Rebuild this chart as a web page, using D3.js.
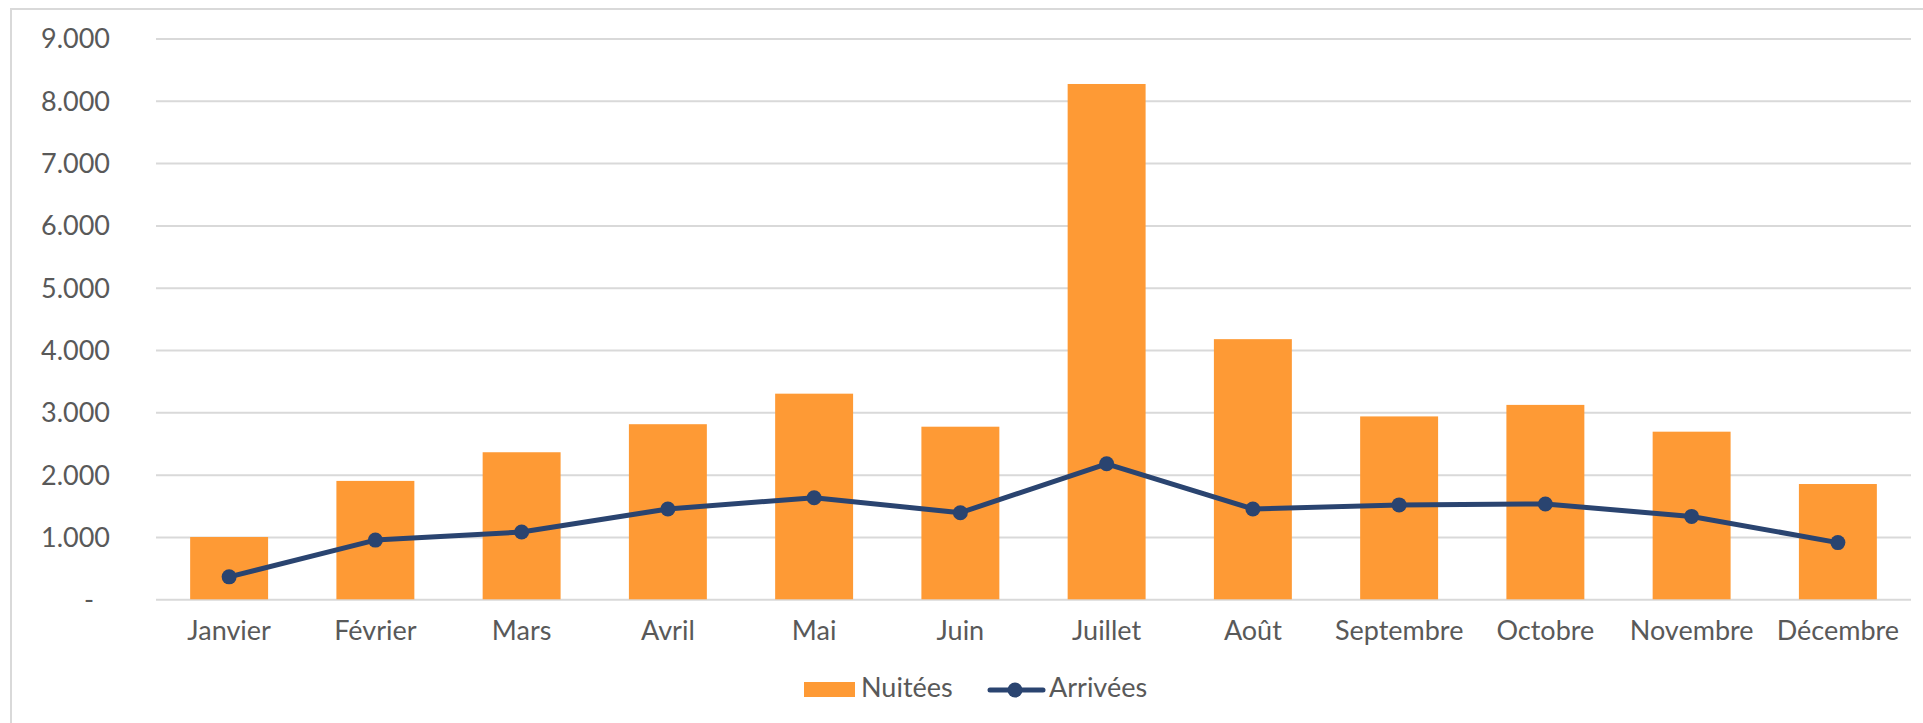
<!DOCTYPE html>
<html>
<head>
<meta charset="utf-8">
<script src="https://cdn.jsdelivr.net/npm/d3@7"></script>
<style>
    body { margin: 0; background: #fff; }
    svg { font-family: Lato, "Noto Sans", sans-serif; }
</style>
</head>
<body>
<svg width="1923" height="723"></svg>
<script>
let months = ["Janvier", "Février", "Mars", "Avril", "Mai", "Juin", "Juillet", "Août", "Septembre", "Octobre", "Novembre", "Décembre"];
let nuitees = [1000, 1900, 2360, 2810, 3300, 2770, 8270, 4175, 2935, 3120, 2690, 1850];
let arrivees = [360, 950, 1080, 1450, 1630, 1390, 2175, 1450, 1515, 1530, 1330, 910];
let yTicks = [0, 1000, 2000, 3000, 4000, 5000, 6000, 7000, 8000, 9000];

var svg = d3.select("svg");

// outer frame of the chart area
svg.append("rect")
    .attr("x", 11).attr("y", 9)
    .attr("width", 1950).attr("height", 750)
    .attr("fill", "none")
    .attr("stroke", "#d9d9d9")
    .attr("stroke-width", 2);

var plotLeft = 156, plotRight = 1911, plotTop = 38.5, plotBottom = 599.3;

var x = d3.scaleBand().domain(months).range([plotLeft, plotRight])
    .paddingInner(0.467).paddingOuter(0.2335);
var y = d3.scaleLinear().domain([0, 9000]).range([plotBottom, plotTop]);

var fmt = function (d) {
    return d === 0 ? "-" : d3.format(",")(d).replace(/,/g, ".");
};

// gridlines + y labels
var yAxis = svg.append("g")
    .attr("transform", "translate(" + plotLeft + ",0)")
    .call(d3.axisLeft(y).tickValues(yTicks).tickFormat(fmt)
        .tickSize(-(plotRight - plotLeft)).tickPadding(46))
    .attr("font-family", null);
yAxis.select(".domain").remove();
yAxis.selectAll("line").attr("stroke", "#d9d9d9").attr("stroke-width", 2);
yAxis.selectAll("text")
    .attr("fill", "#595959")
    .attr("font-size", "27px")
    .attr("dy", "0.35em")
    .attr("dx", function (d) { return d === 0 ? -16 : 0; });

// bars
svg.selectAll(".bar")
    .data(nuitees)
    .enter().append("rect")
    .attr("class", "bar")
    .attr("x", function (d, i) { return x(months[i]); })
    .attr("y", function (d) { return y(d); })
    .attr("width", x.bandwidth())
    .attr("height", function (d) { return y(0) - y(d); })
    .attr("fill", "#fe9a35");

// x labels
var xAxis = svg.append("g")
    .attr("transform", "translate(0," + plotBottom + ")")
    .call(d3.axisBottom(x).tickSize(0).tickPadding(22))
    .attr("font-family", null);
xAxis.select(".domain").remove();
xAxis.selectAll("text")
    .attr("fill", "#595959")
    .attr("font-size", "27px");

// line
var cx = function (i) { return x(months[i]) + x.bandwidth() / 2; };
var line = d3.line()
    .x(function (d, i) { return cx(i); })
    .y(function (d) { return y(d); });

svg.append("path")
    .datum(arrivees)
    .attr("d", line)
    .attr("fill", "none")
    .attr("stroke", "#2a4470")
    .attr("stroke-width", 5)
    .attr("stroke-linejoin", "round");

svg.selectAll(".pt")
    .data(arrivees)
    .enter().append("circle")
    .attr("class", "pt")
    .attr("cx", function (d, i) { return cx(i); })
    .attr("cy", function (d) { return y(d); })
    .attr("r", 7.5)
    .attr("fill", "#2a4470");

// legend
var lg = svg.append("g");
lg.append("rect")
    .attr("x", 804).attr("y", 682)
    .attr("width", 51).attr("height", 15)
    .attr("fill", "#fe9a35");
lg.append("text")
    .attr("x", 861).attr("y", 697)
    .attr("fill", "#595959").attr("font-size", "27px")
    .text("Nuitées");
lg.append("line")
    .attr("x1", 990).attr("x2", 1043)
    .attr("y1", 690).attr("y2", 690)
    .attr("stroke", "#2a4470").attr("stroke-width", 5)
    .attr("stroke-linecap", "round");
lg.append("circle")
    .attr("cx", 1015).attr("cy", 690).attr("r", 7.5)
    .attr("fill", "#2a4470");
lg.append("text")
    .attr("x", 1049).attr("y", 697)
    .attr("fill", "#595959").attr("font-size", "27px")
    .text("Arrivées");
</script>
</body>
</html>
